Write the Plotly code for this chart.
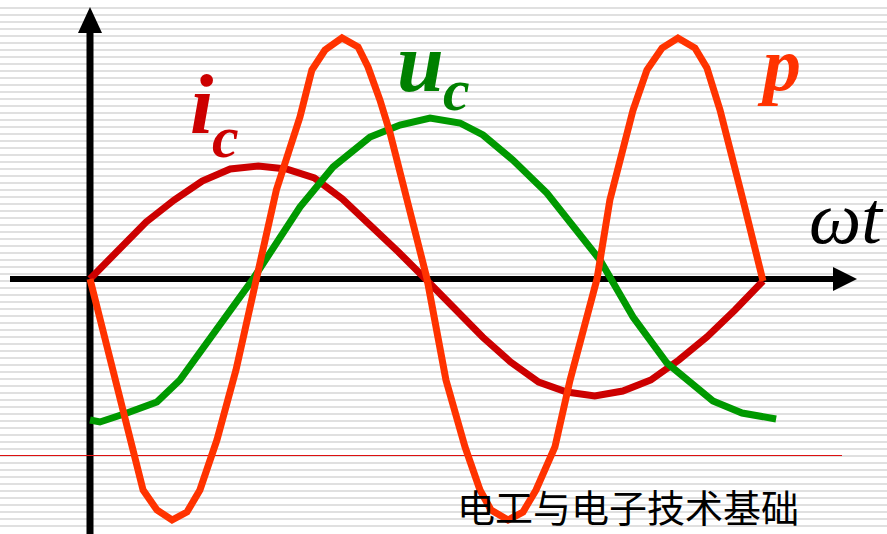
import plotly.graph_objects as go

# ---- data (x: ωt in degrees, y: relative amplitude) ----
ic_x = [0, 15, 30, 45, 60, 75, 90, 105, 120, 135, 150, 165, 180, 195, 210, 225, 240, 255, 270, 285, 300, 315, 330, 345, 360]
ic_y = [0, 0.29, 0.57, 0.79, 0.98, 1.10, 1.13, 1.10, 1.01, 0.80, 0.54, 0.27, -0.01, -0.29, -0.58, -0.83, -1.03, -1.13, -1.17, -1.12, -1.01, -0.81, -0.58, -0.31, -0.02]

uc_x = [0, 5.3, 19.8, 35.8, 48.1, 58.8, 74.8, 87.2, 112.3, 130, 149.8, 165.8, 181.9, 197.9, 210.2, 226.2, 244.4, 272.8, 290.5, 308.6, 333.2, 348.8, 367]
uc_y = [-1.41, -1.43, -1.34, -1.23, -1.01, -0.73, -0.34, 0.0, 0.72, 1.12, 1.42, 1.54, 1.61, 1.56, 1.44, 1.19, 0.86, 0.19, -0.38, -0.84, -1.22, -1.34, -1.40]

p_x = [0, 19.8, 28.4, 35.8, 43.9, 51.9, 58.8, 67.9, 78.1, 89.0, 99.7, 112.3, 118.7, 125.7, 134.8, 143.4, 148.7, 155.1, 160.5, 169.6, 180.3,
       190.4, 200.6, 208.6, 214.5, 223.6, 231.6, 238.6, 248.7, 256.8, 271.2, 278.1, 290.5, 297.9, 306.0, 314.5, 323.6, 330.0, 337.0, 349.3, 360]
p_y = [0, -1.51, -2.11, -2.31, -2.41, -2.33, -2.11, -1.61, -0.91, 0.0, 0.89, 1.62, 2.09, 2.29, 2.41, 2.32, 2.12, 1.79, 1.46, 0.79, 0.0,
       -1.01, -1.68, -2.11, -2.31, -2.41, -2.33, -2.11, -1.68, -1.01, 0.0, 0.79, 1.69, 2.09, 2.31, 2.41, 2.31, 2.11, 1.69, 0.79, -0.02]

W, H = 887, 534
OX, OY = 90, 279          # origin in pixels
XS = 673 / 360            # px per degree
YS = 100                  # px per unit


def px2x(px):
    return (px - OX) / XS


def py2y(py):
    return (OY - py) / YS


fig = go.Figure()
fig.add_trace(go.Scatter(x=ic_x, y=ic_y, mode="lines", line=dict(color="#cc0000", width=7), hoverinfo="skip"))
fig.add_trace(go.Scatter(x=uc_x, y=uc_y, mode="lines", line=dict(color="#009900", width=7), hoverinfo="skip"))
fig.add_trace(go.Scatter(x=p_x, y=p_y, mode="lines", line=dict(color="#ff3300", width=7), hoverinfo="skip"))

shapes = []
# horizontal axis
shapes.append(dict(type="line", x0=px2x(10), x1=px2x(836), y0=0, y1=0, line=dict(color="black", width=6), layer="between"))
shapes.append(dict(type="path", path=f"M {px2x(833)},{py2y(267)} L {px2x(857)},{py2y(279)} L {px2x(833)},{py2y(291)} Z",
                   fillcolor="black", line=dict(color="black", width=0), layer="between"))
# vertical axis
shapes.append(dict(type="line", x0=0, x1=0, y0=py2y(540), y1=py2y(30), line=dict(color="black", width=7), layer="between"))
shapes.append(dict(type="path", path=f"M {px2x(78)},{py2y(33)} L {px2x(90)},{py2y(7)} L {px2x(102)},{py2y(33)} Z",
                   fillcolor="black", line=dict(color="black", width=0), layer="between"))
# thin red rule
shapes.append(dict(type="line", x0=px2x(0), x1=px2x(842), y0=py2y(455.5), y1=py2y(455.5), line=dict(color="#dd1111", width=1), layer="between"))

serif = "Liberation Serif, Times New Roman, serif"
annotations = [
    dict(x=px2x(201), y=py2y(104), text="<b><i>i</i></b>", font=dict(family=serif, size=84, color="#cc0000")),
    dict(x=px2x(225), y=py2y(137), text="<b><i>c</i></b>", font=dict(family=serif, size=60, color="#cc0000")),
    dict(x=px2x(420), y=py2y(62), text="<b><i>u</i></b>", font=dict(family=serif, size=84, color="#008000")),
    dict(x=px2x(456), y=py2y(90), text="<b><i>c</i></b>", font=dict(family=serif, size=60, color="#008000")),
    dict(x=px2x(779), y=py2y(64), text="<b><i>p</i></b>", font=dict(family=serif, size=76, color="#ff3300")),
    dict(x=px2x(846), y=py2y(218), text="<i>ωt</i>", font=dict(family=serif, size=74, color="black")),
    dict(x=px2x(628), y=py2y(505), text="电工与电子技术基础",
         font=dict(family="Noto Sans CJK SC", size=38, color="black")),
]
for a in annotations:
    a.update(xref="x", yref="y", showarrow=False, xanchor="center", yanchor="middle")

fig.update_layout(
    width=W, height=H, autosize=False,
    margin=dict(l=0, r=0, t=0, b=0, pad=0),
    paper_bgcolor="white", plot_bgcolor="white",
    showlegend=False,
    shapes=shapes, annotations=annotations,
    xaxis=dict(range=[px2x(0), px2x(W)], showgrid=False, zeroline=False, showticklabels=False, ticks="", showline=False, fixedrange=True),
    yaxis=dict(range=[py2y(H), py2y(0)], showgrid=True, gridcolor="#e0e0e0", gridwidth=2,
               tick0=py2y(1), dtick=0.07, zeroline=False, showticklabels=False, ticks="", showline=False, fixedrange=True),
)

fig.write_html("out.html", config={"displayModeBar": False},
               post_script="document.body.style.margin='0';document.body.style.overflow='hidden';")
